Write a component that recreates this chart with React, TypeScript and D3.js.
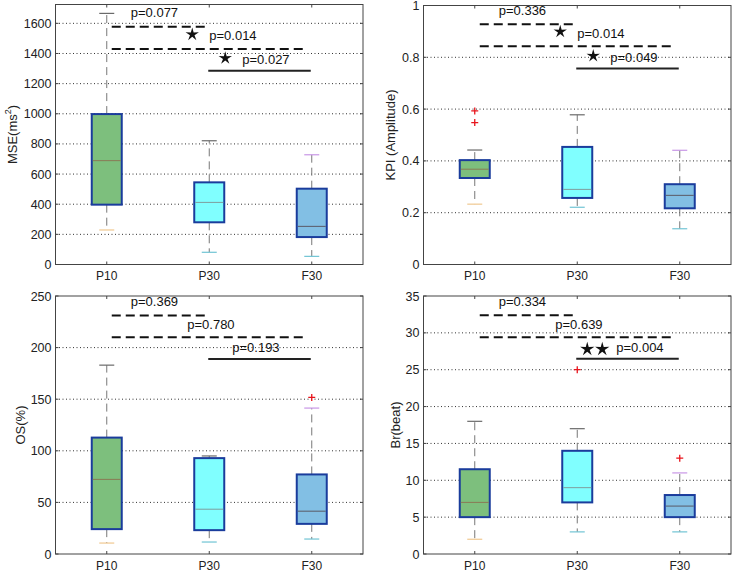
import React from "react";
import * as d3 from "d3";

const categories = ["P10", "P30", "F30"];

// MSE panel
const mseLow = [229, 81, 54];
const mseQ1 = [397, 280, 182];
const mseMed = [689, 412, 253];
const mseQ3 = [998, 545, 503];
const mseHigh = [1666, 821, 728];
const mseOut: number[][] = [[], [], []];
const mseTicks = [0, 200, 400, 600, 800, 1000, 1200, 1400, 1600];
const mseP = ["p=0.077", "p=0.014", "p=0.027"];
const mseStars = [0, 1, 1];
const mseLevels = [1577, 1430, 1286];

// KPI panel
const kpiLow = [0.233, 0.221, 0.138];
const kpiQ1 = [0.334, 0.257, 0.217];
const kpiMed = [0.368, 0.29, 0.267];
const kpiQ3 = [0.403, 0.454, 0.31];
const kpiHigh = [0.442, 0.578, 0.441];
const kpiOut: number[][] = [[0.593, 0.548], [], []];
const kpiTicks = [0, 0.2, 0.4, 0.6, 0.8, 1];
const kpiP = ["p=0.336", "p=0.014", "p=0.049"];
const kpiStars = [0, 1, 1];
const kpiLevels = [0.928, 0.843, 0.757];

// OS panel
const osLow = [10.6, 11.6, 14.5];
const osQ1 = [24.1, 23.1, 29.2];
const osMed = [72.3, 43.4, 41.5];
const osQ3 = [112.8, 92.9, 77.1];
const osHigh = [183, 95, 141.4];
const osOut: number[][] = [[], [], [151.7]];
const osTicks = [0, 50, 100, 150, 200, 250];
const osP = ["p=0.369", "p=0.780", "p=0.193"];
const osStars = [0, 0, 0];
const osLevels = [231, 210, 189];

// Br panel
const brLow = [2, 3, 3];
const brQ1 = [5, 7, 5];
const brMed = [7, 9, 6.5];
const brQ3 = [11.5, 14, 8];
const brHigh = [18, 17, 11];
const brOut: number[][] = [[], [25], [13]];
const brTicks = [0, 5, 10, 15, 20, 25, 30, 35];
const brP = ["p=0.334", "p=0.639", "p=0.004"];
const brStars = [0, 0, 2];
const brLevels = [32.4, 29.4, 26.5];

const bracketPairs = [
  [0, 1],
  [0, 2],
  [1, 2],
];

const boxFill = ["#7dbf7d", "#80ffff", "#82bfe4"];
const medianColor = ["#8a7a55", "#7f9d9d", "#5a5a66"];
const upperCapColor = ["#6a6a6a", "#6a6a6a", "#c896e6"];
const lowerCapColor = ["#f0c890", "#70c4d4", "#70c4d4"];

const FONT = "Liberation Sans, Arial, Helvetica, sans-serif";

type PanelDef = {
  x0: number; x1: number; y0: number; y1: number;
  ymax: number;
  low: number[]; q1: number[]; med: number[]; q3: number[]; high: number[]; out: number[][];
  ticks: number[];
  pTexts: string[]; stars: number[]; levels: number[];
  ylabel: React.ReactNode; ylabelX: number;
};

function starPath(cx: number, cy: number, r: number) {
  const pts: [number, number][] = [];
  for (let i = 0; i < 10; i++) {
    const a = -Math.PI / 2 + (i * Math.PI) / 5;
    const rr = i % 2 === 0 ? r : r * 0.34;
    pts.push([cx + rr * Math.cos(a), cy + rr * Math.sin(a)]);
  }
  return "M" + pts.map((p) => p.join(",")).join("L") + "Z";
}

function Panel({ p }: { p: PanelDef }) {
  const x = d3.scaleLinear().domain([0.5, 3.5]).range([p.x0, p.x1]);
  const y = d3.scaleLinear().domain([0, p.ymax]).range([p.y1, p.y0]);
  const cx = (i: number) => x(i + 1);
  const bw = 30;
  const cw = 15;
  const tickFmt = d3.format("~g");

  const annos = bracketPairs.map(([a, b], bi) => {
    const ly = y(p.levels[bi]);
    const xa = cx(a) + (bi === 2 ? -1 : 5);
    const xb = cx(b) - (bi === 0 ? 2.5 : bi === 1 ? 5.5 : 1);
    const dashed = bi < 2;
    const n = p.stars[bi];
    let textX: number;
    let starXs: number[] = [];
    let textY: number;
    if (bi === 0) {
      textX = cx(0) + 24;
      textY = ly - 9.5;
    } else if (bi === 1) {
      textX = n > 0 ? cx(1) : cx(1) - 22;
      if (n > 0) starXs = [cx(1) - 17];
      textY = ly - 8.5;
    } else {
      if (n === 0) textX = cx(1) + 23;
      else if (n === 1) {
        textX = cx(1) + 33;
        starXs = [cx(1) + 16];
      } else {
        textX = cx(1) + 39;
        starXs = [cx(1) + 10, cx(1) + 25];
      }
      textY = ly - 6.5;
    }
    const starY = n > 1 ? textY - 3 : textY - 6;
    return (
      <g key={bi}>
        <line x1={xa} x2={xb} y1={ly} y2={ly} stroke={dashed ? "#111" : "#222"} strokeWidth={2}
          strokeDasharray={dashed ? "9,5" : undefined} />
        <text x={textX} y={textY} fontSize={13} fontFamily={FONT} fill="#111">{p.pTexts[bi]}</text>
        {starXs.map((sx, k) => (
          <path key={k} d={starPath(sx, starY, n > 1 ? 7.5 : 7)} fill="#111" />
        ))}
      </g>
    );
  });

  return (
    <g>
      {p.ticks.filter((t) => t > 0 && t < p.ymax).map((t) => (
        <line key={"g" + t} x1={p.x0} x2={p.x1} y1={y(t)} y2={y(t)} stroke="#333" strokeWidth={1}
          strokeDasharray="1,2.5" />
      ))}
      {categories.map((c, i) => {
        const X = cx(i);
        return (
          <g key={c}>
            <line x1={X} x2={X} y1={y(p.q3[i])} y2={y(p.high[i])} stroke="#777" strokeWidth={1}
              strokeDasharray="8,5" />
            <line x1={X} x2={X} y1={y(p.q1[i])} y2={y(p.low[i])} stroke="#777" strokeWidth={1}
              strokeDasharray="8,5" />
            <line x1={X - cw / 2} x2={X + cw / 2} y1={y(p.high[i])} y2={y(p.high[i])} stroke={upperCapColor[i]} strokeWidth={1.2} />
            <line x1={X - cw / 2} x2={X + cw / 2} y1={y(p.low[i])} y2={y(p.low[i])} stroke={lowerCapColor[i]} strokeWidth={1.2} />
            <rect x={X - bw / 2} y={y(p.q3[i])} width={bw} height={y(p.q1[i]) - y(p.q3[i])}
              fill={boxFill[i]} stroke="#1a3c9c" strokeWidth={2} />
            <line x1={X - bw / 2 + 1} x2={X + bw / 2 - 1} y1={y(p.med[i])} y2={y(p.med[i])} stroke={medianColor[i]} strokeWidth={1} />
            {p.out[i].map((o, k) => (
              <path key={k} d={`M${X - 3.5},${y(o)}H${X + 3.5}M${X},${y(o) - 3.5}V${y(o) + 3.5}`}
                stroke="#e8141c" strokeWidth={1.3} />
            ))}
          </g>
        );
      })}
      {annos}
      <rect x={p.x0} y={p.y0} width={p.x1 - p.x0} height={p.y1 - p.y0} fill="none" stroke="#444" strokeWidth={1} />
      {categories.map((c, i) => (
        <g key={"xt" + c}>
          <line x1={cx(i)} x2={cx(i)} y1={p.y1} y2={p.y1 - 3} stroke="#444" />
          <line x1={cx(i)} x2={cx(i)} y1={p.y0} y2={p.y0 + 3} stroke="#444" />
          <text x={cx(i)} y={p.y1 + 15.5} textAnchor="middle" fontSize={12} fontFamily={FONT} fill="#222">{c}</text>
        </g>
      ))}
      {p.ticks.map((t) => (
        <g key={"yt" + t}>
          <line x1={p.x0} x2={p.x0 + 3} y1={y(t)} y2={y(t)} stroke="#444" />
          <line x1={p.x1} x2={p.x1 - 3} y1={y(t)} y2={y(t)} stroke="#444" />
          <text x={p.x0 - 4} y={y(t) + 4.5} textAnchor="end" fontSize={12.5} fontFamily={FONT} fill="#222">{tickFmt(t)}</text>
        </g>
      ))}
      <text transform={`translate(${p.ylabelX},${(p.y0 + p.y1) / 2}) rotate(-90)`} textAnchor="middle"
        fontSize={13} fontFamily={FONT} fill="#222" dominantBaseline="middle">{p.ylabel}</text>
    </g>
  );
}

export default function App() {
  const panels: PanelDef[] = [
    { x0: 55.5, x1: 363, y0: 4.5, y1: 264.5, ymax: 1725, low: mseLow, q1: mseQ1, med: mseMed, q3: mseQ3, high: mseHigh, out: mseOut, ticks: mseTicks, pTexts: mseP, stars: mseStars, levels: mseLevels,
      ylabel: (<>MSE(ms<tspan fontSize={9} dy={-5}>2</tspan><tspan dy={5}>)</tspan></>), ylabelX: 14 },
    { x0: 423.5, x1: 731, y0: 5.5, y1: 264.5, ymax: 1, low: kpiLow, q1: kpiQ1, med: kpiMed, q3: kpiQ3, high: kpiHigh, out: kpiOut, ticks: kpiTicks, pTexts: kpiP, stars: kpiStars, levels: kpiLevels,
      ylabel: "KPI (Amplitude)", ylabelX: 391.5 },
    { x0: 55.5, x1: 363, y0: 296, y1: 554, ymax: 250, low: osLow, q1: osQ1, med: osMed, q3: osQ3, high: osHigh, out: osOut, ticks: osTicks, pTexts: osP, stars: osStars, levels: osLevels,
      ylabel: "OS(%)", ylabelX: 22 },
    { x0: 423.5, x1: 731, y0: 296, y1: 554, ymax: 35, low: brLow, q1: brQ1, med: brMed, q3: brQ3, high: brHigh, out: brOut, ticks: brTicks, pTexts: brP, stars: brStars, levels: brLevels,
      ylabel: "Br(beat)", ylabelX: 396.5 },
  ];
  return (
    <svg width={733} height={572} style={{ position: "absolute", left: 0, top: 0, background: "#fff" }}>
      <rect width={733} height={572} fill="#fff" />
      {panels.map((p, i) => (
        <Panel key={i} p={p} />
      ))}
    </svg>
  );
}
